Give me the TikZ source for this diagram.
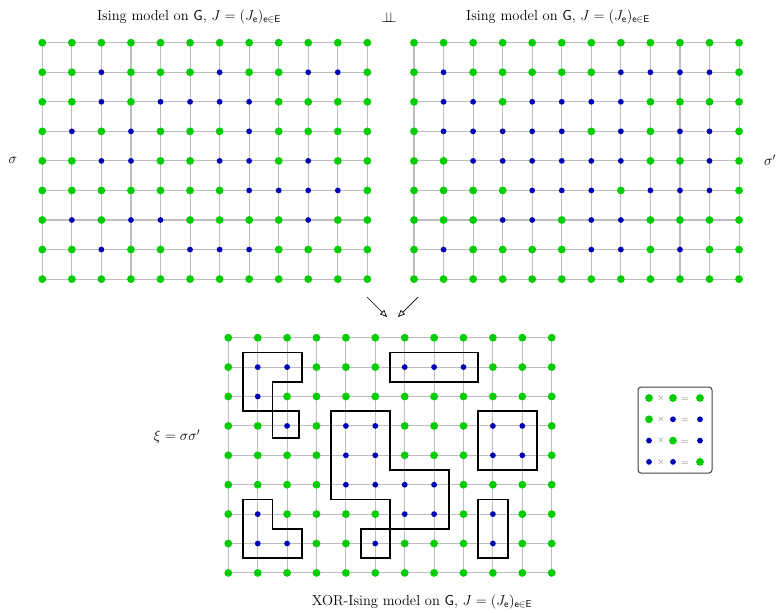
\documentclass[tikz,border=0pt]{standalone}
\usetikzlibrary{arrows.meta}
\definecolor{dotgreen}{RGB}{0,204,0}
\definecolor{dotblue}{RGB}{0,0,180}
\definecolor{gridgray}{RGB}{190,190,190}
\tikzset{
  gridline/.style={draw=gridgray, line width=1.1pt},
  dot0/.style={circle, fill=dotgreen, inner sep=0pt, minimum size=7.8pt},
  dot1/.style={circle, fill=dotblue, inner sep=0pt, minimum size=5.8pt},
  contour/.style={draw=black, line width=1.8pt},
  lbl/.style={font=\fontsize{14.5}{16}\selectfont, inner sep=0pt},
  opsym/.style={font=\fontsize{9}{10}\selectfont, text=black!60, inner sep=0pt},
  legendbox/.style={draw=black!75, line width=1pt, rounded corners=3pt, inner sep=0pt},
  flowarrow/.style={draw=black, line width=0.7pt, -{Triangle[open, length=7pt, width=6pt]}}
}
% #1 name, #2 x0, #3 y0, #4 step, #5 rows of 0/1 (0 green, 1 blue)
\newcommand\isinggrid[5]{%
  \begin{scope}[shift={(#2-#4,#3-#4)}, x=#4pt, y=-#4pt]
    \foreach \row [count=\j] in {#5} {
      \foreach \v [count=\i] in \row {
        \coordinate (#1-\i-\j) at (\i,\j);
      }
    }
    \foreach \j in {1,...,9} \draw[gridline] (#1-1-\j) -- (#1-12-\j);
    \foreach \i in {1,...,12} \draw[gridline] (#1-\i-1) -- (#1-\i-9);
    \foreach \row [count=\j] in {#5} {
      \foreach \v [count=\i] in \row {
        \node[dot\v] (#1n-\i-\j) at (#1-\i-\j) {};
      }
    }
  \end{scope}%
}
\begin{document}
\begin{tikzpicture}[x=1pt, y=-1pt]
\useasboundingbox (0,0) rectangle (779,613);

% sigma grid
\isinggrid{L}{42.3}{42.7}{29.55}{
 {0,0,0,0,0,0,0,0,0,0,0,0},
 {0,0,1,0,0,0,1,0,0,1,1,0},
 {0,0,1,0,1,1,1,1,0,0,0,0},
 {0,1,0,1,0,0,0,1,0,0,0,0},
 {0,0,1,1,0,0,1,1,0,1,0,0},
 {0,0,0,0,0,0,0,1,1,1,1,0},
 {0,1,0,1,1,0,0,0,0,1,0,0},
 {0,0,1,0,0,1,1,1,0,0,0,0},
 {0,0,0,0,0,0,0,0,0,0,0,0}}

% sigma' grid
\isinggrid{R}{414}{42.7}{29.55}{
 {0,0,0,0,0,0,0,0,0,0,0,0},
 {0,1,0,0,0,0,0,1,1,1,1,0},
 {0,1,1,0,1,1,1,1,0,0,0,0},
 {0,1,1,1,1,1,0,1,0,1,1,0},
 {0,0,1,1,1,1,1,1,0,0,1,0},
 {0,0,0,0,1,1,1,0,1,1,1,0},
 {0,0,0,1,1,0,1,1,0,0,0,0},
 {0,1,0,0,0,0,1,1,0,1,0,0},
 {0,0,0,0,0,0,0,0,0,0,0,0}}

% xi grid
\isinggrid{B}{228.3}{337.7}{29.4}{
 {0,0,0,0,0,0,0,0,0,0,0,0},
 {0,1,1,0,0,0,1,1,1,0,0,0},
 {0,1,0,0,0,0,0,0,0,0,0,0},
 {0,0,1,0,1,1,0,0,0,1,1,0},
 {0,0,0,0,1,1,0,0,0,1,1,0},
 {0,0,0,0,1,1,1,1,0,0,0,0},
 {0,1,0,0,0,0,1,1,0,1,0,0},
 {0,1,1,0,0,1,0,0,0,1,0,0},
 {0,0,0,0,0,0,0,0,0,0,0,0}}

% domain contours on the dual lattice
\begin{scope}[shift={(228.3-29.4,337.7-29.4)}, x=29.4pt, y=-29.4pt]
  \draw[contour] (1.5,1.5) -- (3.5,1.5) -- (3.5,2.5) -- (2.5,2.5) -- (2.5,3.5) -- (1.5,3.5) -- cycle;
  \draw[contour] (2.5,3.5) -- (3.4,3.5) -- (3.4,4.4) -- (2.5,4.4) -- cycle;
  \draw[contour] (6.5,1.5) rectangle (9.5,2.5);
  \draw[contour] (4.5,3.5) -- (6.5,3.5) -- (6.5,5.5) -- (8.5,5.5) -- (8.5,7.5) -- (5.5,7.5)
                 -- (5.5,8.5) -- (6.5,8.5) -- (6.5,6.5) -- (4.5,6.5) -- cycle;
  \draw[contour] (9.5,3.5) rectangle (11.5,5.5);
  \draw[contour] (1.5,6.5) -- (2.5,6.5) -- (2.5,7.5) -- (3.5,7.5) -- (3.5,8.5) -- (1.5,8.5) -- cycle;
  \draw[contour] (9.5,6.5) rectangle (10.5,8.5);
\end{scope}

% labels
\node[lbl] (titleL) at (189,17) {Ising model on $\mathsf{G}$, $J=(J_{\mathsf{e}})_{\mathsf{e}\in\mathsf{E}}$};
\node[lbl] (indep) at (389,17) {$\perp\!\!\!\perp$};
\node[lbl] (titleR) at (558,17) {Ising model on $\mathsf{G}$, $J=(J_{\mathsf{e}})_{\mathsf{e}\in\mathsf{E}}$};
\node[lbl] (sig) at (13,160) {$\sigma$};
\node[lbl] (sigp) at (770,160) {$\sigma'$};
\node[lbl] (xi) at (177,437) {$\xi=\sigma\sigma'$};
\node[lbl] (titleB) at (422,602) {XOR-Ising model on $\mathsf{G}$, $J=(J_{\mathsf{e}})_{\mathsf{e}\in\mathsf{E}}$};

% arrows
\coordinate (aL1) at (367,297);
\coordinate (aL2) at (387,317);
\coordinate (aR1) at (418,297);
\coordinate (aR2) at (398,317);
\draw[flowarrow] (aL1) -- (aL2);
\draw[flowarrow] (aR1) -- (aR2);

% legend
\node[legendbox, minimum width=74pt, minimum height=86pt] (legend) at (675,430) {};
\foreach \a/\b/\c [count=\k] in {0/0/0, 0/1/1, 1/0/1, 1/1/0} {
  \pgfmathsetmacro\yy{398+(\k-1)*21.3}
  \node[dot\a] (lg-a-\k) at (649,\yy) {};
  \node[opsym] (lg-x-\k) at (661,\yy) {$\times$};
  \node[dot\b] (lg-b-\k) at (673,\yy) {};
  \node[opsym] (lg-e-\k) at (685,\yy+2) {$=$};
  \node[dot\c] (lg-c-\k) at (700,\yy) {};
}
\end{tikzpicture}
\end{document}
